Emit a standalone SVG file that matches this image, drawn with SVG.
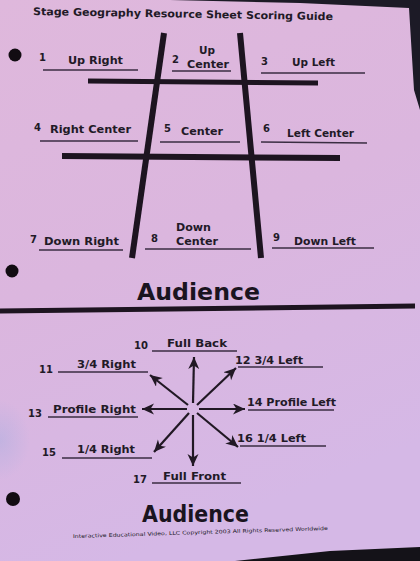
<svg xmlns="http://www.w3.org/2000/svg" width="420" height="561" viewBox="0 0 420 561">
  <defs>
    <linearGradient id="paper" x1="0" y1="0" x2="0.3" y2="1">
      <stop offset="0" stop-color="#dfb8dc"/>
      <stop offset="0.5" stop-color="#dbb6de"/>
      <stop offset="1" stop-color="#d5b8e6"/>
    </linearGradient>
    <radialGradient id="blue" cx="0.5" cy="0.5" r="0.5">
      <stop offset="0" stop-color="#a8aee0" stop-opacity="0.45"/>
      <stop offset="1" stop-color="#a8aee0" stop-opacity="0"/>
    </radialGradient>
    <marker id="ah" markerUnits="userSpaceOnUse" markerWidth="14" markerHeight="12" refX="12" refY="5.5" orient="auto">
      <path d="M0,0 L12,5.5 L0,11 L3.5,5.5 Z" fill="#211824"/>
    </marker>
    <style>
      text { font-family: "DejaVu Sans", "Liberation Sans", sans-serif; font-weight: bold; fill: #221a27; }
      .num { font-size: 10px; }
      .lbl { font-size: 11px; }
      .big { font-size: 23px; fill: #1a1420; }
      .ul { stroke: #3a2d42; stroke-width: 1.4; fill: none; }
      .bar { stroke: #1d1420; fill: none; stroke-linecap: butt; }
      .arrow { stroke: #211824; stroke-width: 2.2; fill: none; marker-end: url(#ah); }
      .hole { fill: #120c12; }
    </style>
  </defs>

  <!-- paper and surroundings -->
  <rect x="0" y="0" width="420" height="561" fill="url(#paper)"/>
  <ellipse cx="0" cy="440" rx="30" ry="40" fill="url(#blue)"/>
  <polygon points="170,0 420,0 420,110 414,90 409,8 300,3" fill="#1c1a26"/>
  <polygon points="235,561 420,561 420,547 330,551" fill="#141218"/>

  <!-- title -->
  <text id="title" x="33" y="15" font-size="10.5" textLength="300" lengthAdjust="spacingAndGlyphs" transform="rotate(1 33 15)">Stage Geography Resource Sheet  Scoring Guide</text>

  <!-- punch holes -->
  <circle class="hole" cx="15" cy="55" r="6.5"/>
  <circle class="hole" cx="12" cy="271" r="6.5"/>
  <circle class="hole" cx="13" cy="499" r="7"/>

  <!-- stage grid -->
  <g id="grid">
    <line class="bar" x1="164" y1="33" x2="132" y2="258" stroke-width="6"/>
    <line class="bar" x1="240" y1="33" x2="261" y2="258" stroke-width="6"/>
    <line class="bar" x1="88" y1="81" x2="318" y2="83" stroke-width="5"/>
    <line class="bar" x1="62" y1="156" x2="340" y2="158" stroke-width="6"/>
    <line class="bar" x1="0" y1="311" x2="415" y2="306" stroke-width="5"/>
  </g>

  <!-- stage areas -->
  <g id="n1">
    <text class="num" x="39" y="61">1</text>
    <text class="lbl" x="68" y="64" textLength="55" lengthAdjust="spacingAndGlyphs">Up Right</text>
    <line class="ul" x1="43" y1="70" x2="138" y2="70"/>
  </g>
  <g id="n2">
    <text class="num" x="172" y="63">2</text>
    <text class="lbl" x="199" y="54" textLength="16" lengthAdjust="spacingAndGlyphs">Up</text>
    <text class="lbl" x="187" y="68" textLength="42" lengthAdjust="spacingAndGlyphs">Center</text>
    <line class="ul" x1="172" y1="71" x2="231" y2="71"/>
  </g>
  <g id="n3">
    <text class="num" x="261" y="65">3</text>
    <text class="lbl" x="292" y="66" textLength="43" lengthAdjust="spacingAndGlyphs">Up Left</text>
    <line class="ul" x1="261" y1="73" x2="365" y2="73"/>
  </g>
  <g id="n4">
    <text class="num" x="34" y="131">4</text>
    <text class="lbl" x="50" y="133" textLength="81" lengthAdjust="spacingAndGlyphs">Right Center</text>
    <line class="ul" x1="40" y1="141" x2="138" y2="141"/>
  </g>
  <g id="n5">
    <text class="num" x="164" y="132">5</text>
    <text class="lbl" x="181" y="135" textLength="42" lengthAdjust="spacingAndGlyphs">Center</text>
    <line class="ul" x1="160" y1="142" x2="240" y2="142"/>
  </g>
  <g id="n6">
    <text class="num" x="263" y="132">6</text>
    <text class="lbl" x="287" y="137" textLength="67" lengthAdjust="spacingAndGlyphs">Left Center</text>
    <line class="ul" x1="261" y1="142" x2="367" y2="143"/>
  </g>
  <g id="n7">
    <text class="num" x="30" y="243">7</text>
    <text class="lbl" x="44" y="245" textLength="75" lengthAdjust="spacingAndGlyphs">Down Right</text>
    <line class="ul" x1="39" y1="250" x2="123" y2="250"/>
  </g>
  <g id="n8">
    <text class="num" x="151" y="242">8</text>
    <text class="lbl" x="176" y="231" textLength="35" lengthAdjust="spacingAndGlyphs">Down</text>
    <text class="lbl" x="176" y="245" textLength="42" lengthAdjust="spacingAndGlyphs">Center</text>
    <line class="ul" x1="145" y1="249" x2="251" y2="249"/>
  </g>
  <g id="n9">
    <text class="num" x="273" y="241">9</text>
    <text class="lbl" x="294" y="245" textLength="62" lengthAdjust="spacingAndGlyphs">Down Left</text>
    <line class="ul" x1="272" y1="248" x2="374" y2="248"/>
  </g>

  <text id="audience1" class="big" x="137" y="300" textLength="123" lengthAdjust="spacingAndGlyphs">Audience</text>

  <!-- body positions -->
  <g id="connectors">
    <line class="arrow" x1="193" y1="403" x2="194" y2="357"/>
    <line class="arrow" x1="197" y1="405" x2="236" y2="368"/>
    <line class="arrow" x1="199" y1="409" x2="245" y2="409"/>
    <line class="arrow" x1="197" y1="413" x2="238" y2="447"/>
    <line class="arrow" x1="193" y1="415" x2="193" y2="466"/>
    <line class="arrow" x1="189" y1="413" x2="154" y2="452"/>
    <line class="arrow" x1="187" y1="409" x2="142" y2="409"/>
    <line class="arrow" x1="188" y1="405" x2="150" y2="375"/>
  </g>

  <g id="n10">
    <text class="num" x="134" y="349">10</text>
    <text class="lbl" x="167" y="347" textLength="60" lengthAdjust="spacingAndGlyphs">Full Back</text>
    <line class="ul" x1="152" y1="351" x2="237" y2="351"/>
  </g>
  <g id="n11">
    <text class="num" x="39" y="373">11</text>
    <text class="lbl" x="77" y="368" textLength="59" lengthAdjust="spacingAndGlyphs">3/4 Right</text>
    <line class="ul" x1="58" y1="372" x2="148" y2="372"/>
  </g>
  <g id="n12">
    <text class="lbl" x="235" y="364" textLength="68" lengthAdjust="spacingAndGlyphs">12 3/4 Left</text>
    <line class="ul" x1="238" y1="367" x2="323" y2="367"/>
  </g>
  <g id="n13">
    <text class="num" x="28" y="417">13</text>
    <text class="lbl" x="53" y="413" textLength="83" lengthAdjust="spacingAndGlyphs">Profile Right</text>
    <line class="ul" x1="48" y1="417" x2="138" y2="417"/>
  </g>
  <g id="n14">
    <text class="lbl" x="247" y="406" textLength="89" lengthAdjust="spacingAndGlyphs">14 Profile Left</text>
    <line class="ul" x1="248" y1="410" x2="334" y2="410"/>
  </g>
  <g id="n16">
    <text class="lbl" x="237" y="442" textLength="69" lengthAdjust="spacingAndGlyphs">16 1/4 Left</text>
    <line class="ul" x1="240" y1="446" x2="326" y2="446"/>
  </g>
  <g id="n15">
    <text class="num" x="42" y="456">15</text>
    <text class="lbl" x="77" y="453" textLength="58" lengthAdjust="spacingAndGlyphs">1/4 Right</text>
    <line class="ul" x1="62" y1="458" x2="152" y2="458"/>
  </g>
  <g id="n17">
    <text class="num" x="133" y="483">17</text>
    <text class="lbl" x="163" y="480" textLength="63" lengthAdjust="spacingAndGlyphs">Full Front</text>
    <line class="ul" x1="152" y1="483" x2="241" y2="483"/>
  </g>

  <text id="audience2" class="big" x="142" y="522" font-size="21" textLength="107" lengthAdjust="spacingAndGlyphs">Audience</text>
  <text id="copyright" x="73" y="538" font-size="5" textLength="255" lengthAdjust="spacingAndGlyphs" transform="rotate(-1.8 73 538)" style="font-weight:normal">Interactive Educational Video, LLC Copyright 2003  All Rights Reserved Worldwide</text>
</svg>
